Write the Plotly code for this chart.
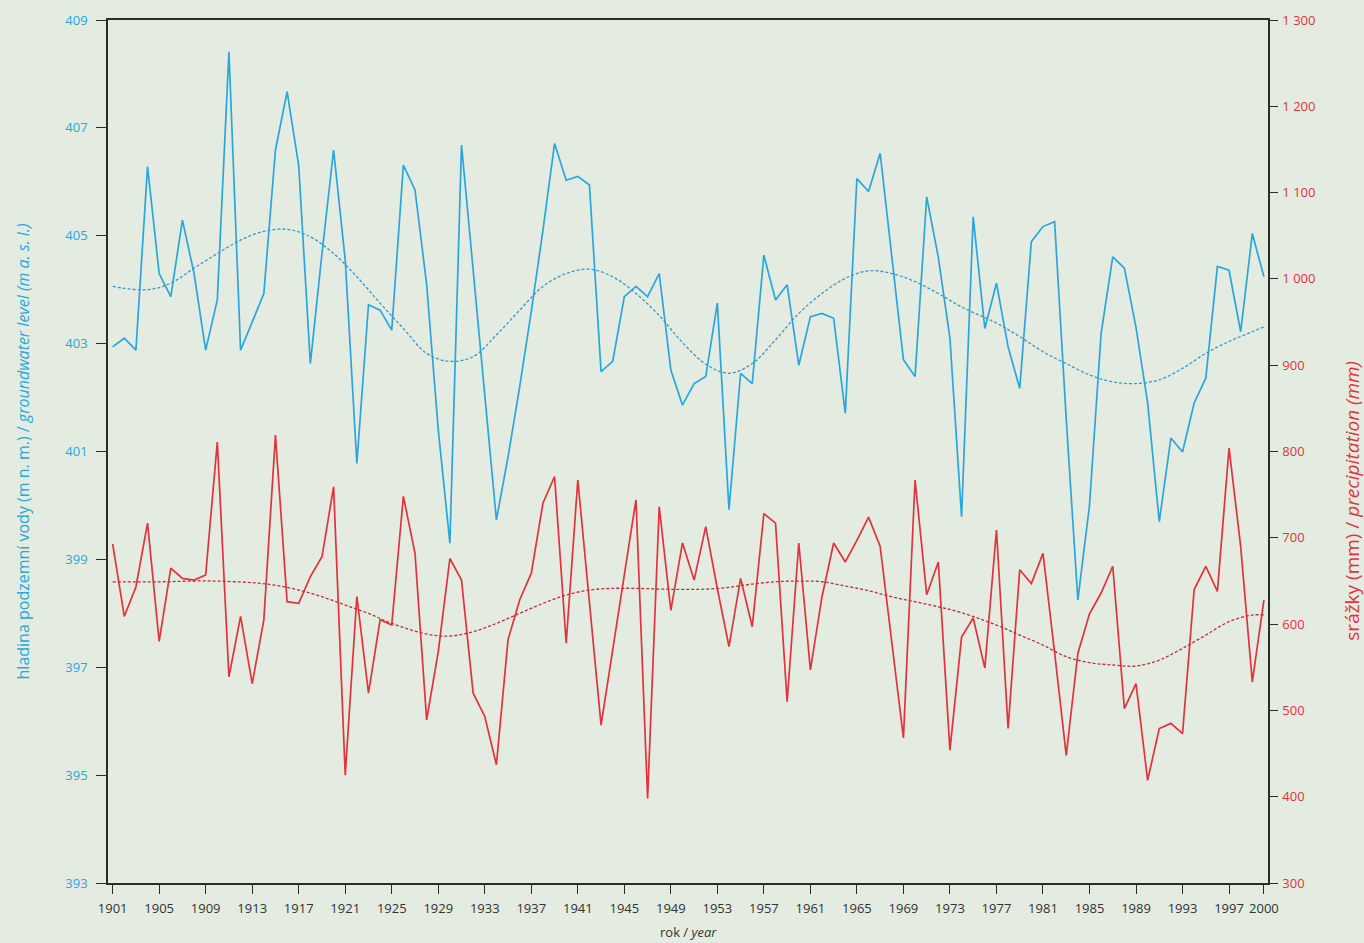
import plotly.graph_objects as go

years = list(range(1901, 2001))

groundwater = [
    402.94, 403.10, 402.88, 406.28, 404.30, 403.87, 405.29, 404.30, 402.88, 403.81,
    408.41, 402.88, 403.40, 403.93, 406.59, 407.67, 406.30, 402.63, 404.67, 406.59,
    404.55, 400.78, 403.72, 403.62, 403.25, 406.31, 405.85, 404.10, 401.40, 399.30,
    406.68, 404.40, 402.00, 399.73, 400.90, 402.20, 403.60, 405.10, 406.71, 406.03,
    406.10, 405.94, 402.48, 402.67, 403.87, 404.06, 403.87, 404.30, 402.51, 401.86,
    402.26, 402.39, 403.75, 399.92, 402.45, 402.26, 404.64, 403.81, 404.09, 402.60,
    403.50, 403.56, 403.47, 401.71, 406.06, 405.82, 406.53, 404.67, 402.70, 402.39,
    405.72, 404.60, 403.10, 399.79, 405.35, 403.28, 404.12, 402.94, 402.17, 404.89,
    405.17, 405.26, 401.60, 398.25, 400.00, 403.19, 404.61, 404.40, 403.30, 401.90,
    399.70, 401.25, 400.99, 401.90, 402.36, 404.43, 404.36, 403.22, 405.04, 404.24,
]

precipitation = [
    693, 609, 643, 717, 580, 665, 653, 651, 657, 811,
    539, 609, 531, 605, 819, 626, 624, 655, 678, 759,
    425, 632, 520, 605, 599, 748, 682, 489, 568, 676,
    651, 520, 493, 437, 582, 628, 659, 740, 771, 578,
    767, 628, 483, 570, 657, 744, 398, 736, 616, 694,
    651, 713, 641, 574, 653, 597, 728, 717, 510, 694,
    547, 632, 694, 672, 697, 724, 690, 579, 468, 767,
    634, 672, 454, 585, 607, 549, 709, 479, 663, 647,
    682, 567, 448, 566, 612, 636, 667, 502, 531, 419,
    479, 485, 473, 640, 667, 638, 804, 690, 533, 628,
]

gw_trend_years = [1901, 1904, 1906, 1908, 1910, 1912, 1914, 1916, 1918, 1920, 1922, 1924,
                  1926, 1928, 1930, 1932, 1934, 1936, 1938, 1940, 1942, 1944, 1946, 1948,
                  1950, 1952, 1954, 1956, 1958, 1960, 1962, 1964, 1966, 1968, 1970, 1972,
                  1974, 1977, 1979, 1981, 1983, 1985, 1987, 1989, 1991, 1993, 1995, 1997,
                  1999, 2000]
gw_trend = [404.06, 404.00, 404.12, 404.40, 404.67, 404.92, 405.08, 405.12, 404.98, 404.67,
            404.24, 403.75, 403.28, 402.82, 402.67, 402.76, 403.16, 403.62, 404.06, 404.30,
            404.38, 404.24, 403.93, 403.52, 403.02, 402.62, 402.45, 402.63, 403.07, 403.56,
            403.93, 404.21, 404.35, 404.30, 404.15, 403.93, 403.68, 403.38, 403.13, 402.85,
            402.63, 402.42, 402.29, 402.26, 402.33, 402.54, 402.82, 403.04, 403.22, 403.31]

pr_trend_years = [1901, 1905, 1909, 1913, 1915, 1917, 1919, 1921, 1923, 1925, 1928, 1930,
                  1932, 1934, 1936, 1938, 1940, 1942, 1944, 1946, 1948, 1950, 1952, 1954,
                  1956, 1958, 1960, 1962, 1964, 1966, 1968, 1970, 1972, 1974, 1977, 1979,
                  1981, 1983, 1985, 1987, 1989, 1991, 1993, 1995, 1997, 1999, 2000]
pr_trend = [649, 649, 650, 648, 645, 639.5, 631.7, 622, 612.4, 600.8, 588.5, 586.2,
            591.2, 600.8, 612.4, 624, 633.7, 639.5, 641.4, 641.4, 640.6, 640.2, 640.5, 642.6,
            646.4, 649.1, 649.9, 649.1, 644.1, 638.7, 631.7, 625.9, 620.1, 613.2, 598.9, 587.3,
            575.7, 562.2, 555.3, 552.6, 551.4, 558.3, 571.9, 587.3, 602.8, 610.5, 610.5]

x_ticks = list(range(1901, 2000, 4)) + [2000]
left_ticks = list(range(393, 410, 2))
right_ticks = list(range(300, 1301, 100))
right_ticktext = [f"{v:,}".replace(",", " ") for v in right_ticks]

BLUE = "#2aa6df"
RED = "#e3323c"
BG = "#e4ebe0"
AXIS = "#2b2b2b"
FONT = "Open Sans"

fig = go.Figure()
fig.add_trace(go.Scatter(x=years, y=groundwater, mode="lines",
                         line=dict(color=BLUE, width=1.7), yaxis="y", showlegend=False))
fig.add_trace(go.Scatter(x=gw_trend_years, y=gw_trend, mode="lines",
                         line=dict(color="#3a98c8", width=1.3, dash="3px,2px", shape="spline"),
                         yaxis="y", showlegend=False))
fig.add_trace(go.Scatter(x=years, y=precipitation, mode="lines",
                         line=dict(color=RED, width=1.7), yaxis="y2", showlegend=False))
fig.add_trace(go.Scatter(x=pr_trend_years, y=pr_trend, mode="lines",
                         line=dict(color="#bf2f37", width=1.3, dash="3px,2px", shape="spline"),
                         yaxis="y2", showlegend=False))

fig.update_layout(
    width=1364, height=943,
    margin=dict(l=108, r=96, t=20, b=60),
    paper_bgcolor=BG, plot_bgcolor=BG,
    font=dict(family=FONT, size=12, color="#333333"),
    xaxis=dict(
        range=[1900.6, 2000.35], tickvals=x_ticks, ticktext=[str(v) for v in x_ticks],
        showgrid=False, zeroline=False, showline=True, linecolor=AXIS, linewidth=1.5,
        mirror=True, ticks="outside", ticklen=9, tickcolor=AXIS, tickwidth=1.3,
        ticklabelstandoff=4, automargin=False,
        tickfont=dict(size=13, color="#333333"),
    ),
    yaxis=dict(
        range=[393, 409], tickvals=left_ticks, showgrid=False, zeroline=False,
        showline=True, linecolor=AXIS, linewidth=1.5, ticks="outside", ticklen=10,
        tickcolor=AXIS, tickwidth=1.3, ticklabelstandoff=6,
        tickfont=dict(size=13, color=BLUE),
        title=dict(text="hladina podzemní vody (m n. m.) / <i>groundwater level (m a. s. l.)</i>",
                   font=dict(size=16, color=BLUE), standoff=32),
    ),
    yaxis2=dict(
        range=[300, 1300], tickvals=right_ticks, ticktext=right_ticktext,
        overlaying="y", side="right", showgrid=False, zeroline=False,
        showline=True, linecolor=AXIS, linewidth=1.5, ticks="outside", ticklen=8,
        tickcolor=AXIS, tickwidth=1.3, ticklabelstandoff=2,
        tickfont=dict(size=13, color=RED),
    ),
    annotations=[
        dict(
            text="srážky (mm) / <i>precipitation (mm)</i>",
            xref="paper", yref="paper", x=1, y=0.443, xshift=84,
            xanchor="center", yanchor="middle", textangle=-90, showarrow=False,
            font=dict(size=19, color=RED),
        ),
        dict(
            text="rok / <i>year</i>",
            xref="paper", yref="paper", x=0.5, y=0, yshift=-49,
            xanchor="center", yanchor="middle", showarrow=False,
            font=dict(size=13, color="#333333"),
        ),
    ],
)

fig.write_html(
    "out.html",
    config={"displayModeBar": False},
    post_script="document.body.style.margin='0';document.body.style.background='%s';" % BG,
)
